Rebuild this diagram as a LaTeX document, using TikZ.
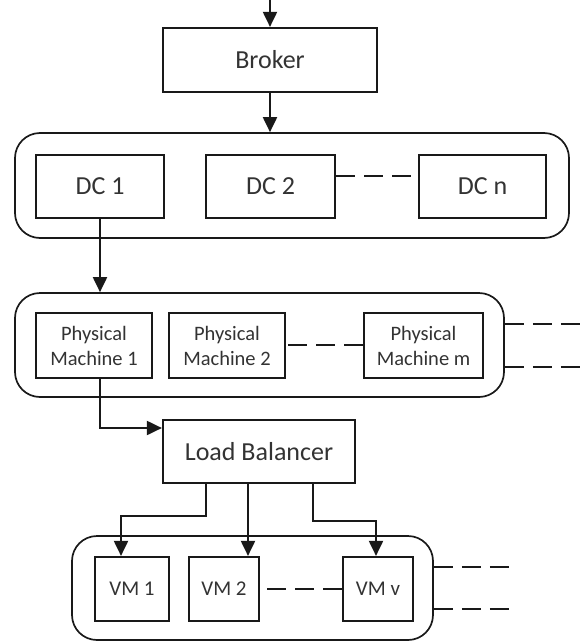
\documentclass[tikz,border=0pt]{standalone}
\usepackage{fontspec}
\setmainfont{Carlito}
\usetikzlibrary{arrows.meta}
\begin{document}
\begin{tikzpicture}[x=1pt,y=-1pt,
  box/.style={draw=black!90, line width=2.2pt, inner sep=0pt, text=black!80, align=center},
  cont/.style={draw=black!90, line width=1.7pt, rounded corners=25pt, inner sep=0pt},
  arr/.style={draw=black!90, line width=2pt, -{Triangle[width=14pt,length=15pt]}},
  dsh/.style={draw=black!90, line width=2pt, dash pattern=on 19pt off 9pt},
  bigtxt/.style={font=\fontsize{26}{30}\selectfont},
  pmtxt/.style={font=\fontsize{20.5}{25}\selectfont},
  vmtxt/.style={font=\fontsize{21}{25}\selectfont}]
\useasboundingbox (0,0) rectangle (582,643);
% top
\coordinate (top) at (270,0);
\node[box, bigtxt, minimum width=214pt, minimum height=64pt] (broker) at (270,60) {Broker};
% DC layer
\node[cont, minimum width=554pt, minimum height=105pt] (dcc) at (292,185.5) {};
\node[box, bigtxt, minimum width=128pt, minimum height=63pt] (dc1) at (100,186.5) {DC 1};
\node[box, bigtxt, minimum width=129pt, minimum height=63pt] (dc2) at (270.5,186.5) {DC 2};
\node[box, bigtxt, minimum width=127pt, minimum height=63pt] (dcn) at (482.5,186.5) {DC n};
% PM layer
\node[cont, minimum width=489pt, minimum height=104pt] (pmc) at (259.5,345) {};
\node[box, pmtxt, minimum width=116pt, minimum height=65pt] (pm1) at (94,345.5) {Physical\\Machine 1};
\node[box, pmtxt, minimum width=116pt, minimum height=65pt] (pm2) at (227,345.5) {Physical\\Machine 2};
\node[box, pmtxt, minimum width=119pt, minimum height=65pt] (pmm) at (423.5,345.5) {Physical\\Machine m};
% load balancer
\node[box, bigtxt, minimum width=192pt, minimum height=63pt] (lb) at (259,451.5) {Load Balancer};
% VM layer
\node[cont, minimum width=361pt, minimum height=104pt] (vmc) at (252.5,588) {};
\node[box, vmtxt, minimum width=74pt, minimum height=64pt] (vm1) at (132,589) {VM 1};
\node[box, vmtxt, minimum width=70pt, minimum height=64pt] (vm2) at (224,589) {VM 2};
\node[box, vmtxt, minimum width=70pt, minimum height=64pt] (vmv) at (378,589) {VM v};
% connectors
\draw[arr] (top) -- (broker.north);
\draw[arr] (broker.south) -- (broker.south |- dcc.north);
\draw[arr] (dc1.south) -- (dc1.south |- pmc.north);
\draw[arr] ([xshift=6pt]pm1.south) |- ([yshift=23.5pt]lb.west);
\draw[arr] ([xshift=-53pt]lb.south) -- ++(0,32) -| ([xshift=-11pt]vm1.north);
\draw[arr] ([xshift=-11pt]lb.south) -- ([xshift=24pt]vm2.north);
\draw[arr] ([xshift=54pt]lb.south) -- ++(0,37) -| ([xshift=-2pt]vmv.north);
% dashed links
\draw[dsh] ([yshift=10.5pt]dc2.east) -- ([yshift=10.5pt]dcn.west);
\draw[dsh] ([yshift=0.5pt]pmm.west) -- ([yshift=0.5pt]pm2.east);
\draw[dsh] (vmv.west) -- (vm2.east);
\coordinate (pe1) at (582,324);
\coordinate (pe2) at (582,367);
\draw[dsh] (pmc.east |- pe1) -- (pe1);
\draw[dsh] (pmc.east |- pe2) -- (pe2);
\coordinate (ve1) at (509,567);
\coordinate (ve2) at (509,609);
\draw[dsh] (vmc.east |- ve1) -- (ve1);
\draw[dsh] (vmc.east |- ve2) -- (ve2);
\end{tikzpicture}
\end{document}
